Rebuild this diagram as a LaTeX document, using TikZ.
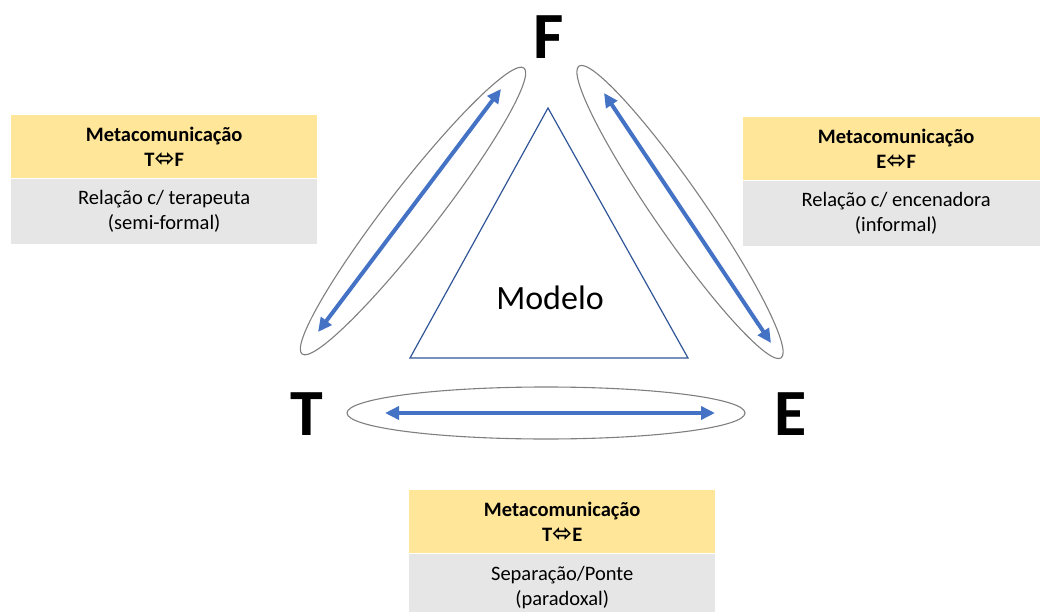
\documentclass[tikz,border=0pt]{standalone}
\usepackage{fontspec}
\setmainfont{Carlito}
\newfontfamily\symfont{DejaVu Sans}
\usetikzlibrary{shapes.geometric,arrows.meta}

\definecolor{headyellow}{HTML}{FFE699}
\definecolor{bodygray}{HTML}{E7E6E6}
\definecolor{arrowblue}{HTML}{4472C4}
\definecolor{triblue}{HTML}{2F5597}
\definecolor{ringgray}{HTML}{7F7F7F}

\newcommand{\boxfont}{\fontsize{20.5}{25}\selectfont}
\newcommand{\lr}{{\symfont\fontsize{24}{25}\selectfont ⬄}}

\tikzset{
  head/.style={fill=headyellow, minimum width=306, minimum height=63, inner sep=0pt,
    align=center, font=\boxfont\bfseries},
  body/.style={fill=bodygray, minimum width=306, minimum height=65, inner sep=0pt,
    align=center, font=\boxfont},
  ring/.style={draw=ringgray, ellipse, line width=1.1pt, inner sep=0pt},
  arr/.style={arrowblue, line width=4pt, {Triangle[length=14pt,width=13pt]}-{Triangle[length=14pt,width=13pt]}},
  vertex/.style={font=\fontsize{66}{68}\selectfont\bfseries, inner sep=0pt}
}

\begin{document}
\begin{tikzpicture}[x=1pt,y=-1pt]
    \useasboundingbox (0,0) rectangle (1040,612);

    % Triangle in the middle
    \draw[triblue, line width=1.2pt] (548,108) -- (410,358) -- (688,358) -- cycle;
    \node[font=\fontsize{34}{36}\selectfont] (modelo) at (550,298) {Modelo};

    % Corner letters
    \node[vertex] (F) at (549,37) {F};
    \node[vertex] (T) at (307,414) {T};
    \node[vertex] (E) at (791,414) {E};

    % Ellipses round the arrows
    \node[ring, minimum width=362, minimum height=50, rotate=52.2] (tfring) at (413,211) {};
    \node[ring, minimum width=355, minimum height=50, rotate=-55.3] (efring) at (680,212) {};
    \node[ring, minimum width=398, minimum height=52] (tering) at (546,413) {};

    % Arrow ends
    \coordinate (tfa) at (318,332);
    \coordinate (tfb) at (501,89);
    \coordinate (efa) at (604,93);
    \coordinate (efb) at (771,343);
    \coordinate (tea) at (385,413);
    \coordinate (teb) at (715,413);

    % Arrows
    \draw[arr] (tfa) -- (tfb);
    \draw[arr] (efa) -- (efb);
    \draw[arr] (tea) -- (teb);

    % Box T-F
    \node[head, anchor=north west] (tfhead) at (11,115) {Metacomunicação\\T\lr F};
    \node[body, anchor=north] (tfbody) at (tfhead.south) {Relação c/ terapeuta\\(semi-formal)};

    % Box E-F
    \node[head, anchor=north west] (efhead) at (743,117) {Metacomunicação\\E\lr F};
    \node[body, anchor=north] (efbody) at (efhead.south) {Relação c/ encenadora\\(informal)};

    % Box T-E
    \node[head, anchor=north west] (tehead) at (409,490) {Metacomunicação\\T\lr E};
    \node[body, anchor=north, minimum height=68] (tebody) at (tehead.south) {Separação/Ponte\\(paradoxal)};
\end{tikzpicture}
\end{document}
